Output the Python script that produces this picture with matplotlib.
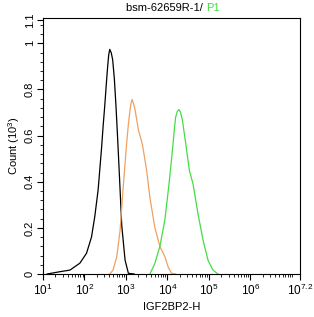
import numpy as np
import matplotlib
matplotlib.use("Agg")
import matplotlib.pyplot as plt
from matplotlib.ticker import FixedLocator

plt.rcParams['font.family'] = ['Liberation Sans', 'DejaVu Sans']
plt.rcParams['mathtext.fontset'] = 'custom'
plt.rcParams['mathtext.rm'] = 'Liberation Sans'

# histogram outlines (x in log10 units, y in 10^3 counts)
black_x = [1.10, 1.41, 1.65, 1.89, 2.05, 2.17, 2.25, 2.33, 2.41, 2.45, 2.49, 2.53, 2.56,
           2.585, 2.61, 2.645, 2.68, 2.72, 2.76, 2.80, 2.84, 2.90, 2.98, 3.06, 3.20]
black_y = [0.0, 0.01, 0.017, 0.047, 0.09, 0.16, 0.25, 0.365, 0.54, 0.64, 0.73, 0.83, 0.90,
           0.95, 0.974, 0.96, 0.93, 0.85, 0.73, 0.59, 0.44, 0.21, 0.06, 0.003, 0.0]

orange_x = [2.61, 2.69, 2.78, 2.86, 2.93, 3.01, 3.06, 3.10, 3.13, 3.15, 3.18, 3.22, 3.26,
            3.30, 3.40, 3.50, 3.58, 3.70, 3.82, 3.94, 4.02, 4.10, 4.20]
orange_y = [0.0, 0.017, 0.075, 0.19, 0.365, 0.55, 0.65, 0.713, 0.745, 0.757, 0.74, 0.713,
            0.67, 0.626, 0.56, 0.45, 0.33, 0.20, 0.12, 0.075, 0.03, 0.003, 0.0]

green_x = [3.58, 3.70, 3.82, 3.94, 4.04, 4.13, 4.17, 4.20, 4.24, 4.28, 4.32, 4.36, 4.40,
           4.44, 4.53, 4.62, 4.74, 4.86, 4.98, 5.10, 5.22]
green_y = [0.0, 0.047, 0.12, 0.235, 0.39, 0.55, 0.63, 0.68, 0.705, 0.713, 0.70, 0.67, 0.62,
           0.57, 0.45, 0.39, 0.26, 0.148, 0.06, 0.017, 0.0]

x_ticks = [1, 2, 3, 4, 5, 6, 7.2]
x_labels = ['1', '2', '3', '4', '5', '6', '7.2']
y_ticks = [0, 0.2, 0.4, 0.6, 0.8, 1, 1.1]
y_labels = ['0', '0.2', '0.4', '0.6', '0.8', '1', '1.1']

fig = plt.figure(figsize=(3.14, 3.17), dpi=100)
ax = fig.add_axes([43 / 314, 1 - 274 / 317, 257 / 314, 256 / 317])

ax.plot(black_x, black_y, color='black', lw=0.9)
ax.plot(orange_x, orange_y, color='#f0a060', lw=0.9)
ax.plot(green_x, green_y, color='#44dd44', lw=0.9)

ax.set_xlim(1, 7.2)
ax.set_ylim(0, 1.11)

ax.xaxis.set_major_locator(FixedLocator(x_ticks))
ax.set_xticklabels(['10$^{%s}$' % s for s in x_labels], fontsize=8.5)
minor = [d + np.log10(m) for d in range(1, 8) for m in range(1, 10)
         if d + np.log10(m) < 7.2 and (m > 1 or d == 7)]
ax.xaxis.set_minor_locator(FixedLocator(minor))

ax.yaxis.set_major_locator(FixedLocator(y_ticks))
ax.set_yticklabels(y_labels, fontsize=8, rotation=90, va='center')
ax.yaxis.set_minor_locator(FixedLocator(np.arange(0, 1.1, 0.04)))

ax.tick_params(which='major', direction='out', length=4, width=0.8, pad=2)
ax.tick_params(which='minor', direction='out', length=2, width=0.6)
for s in ax.spines.values():
    s.set_linewidth(0.8)

ax.set_xlabel('IGF2BP2-H', fontsize=8, labelpad=3)
ax.set_ylabel('Count (10$^3$)', fontsize=8, labelpad=2)

fig.text(206 / 314, 1 - 8 / 317, 'bsm-62659R-1/ ', ha='right', va='center', fontsize=8)
fig.text(206 / 314, 1 - 8 / 317, 'P1', ha='left', va='center', fontsize=8, color='#44dd44')

fig.savefig('out.png', dpi=100)
